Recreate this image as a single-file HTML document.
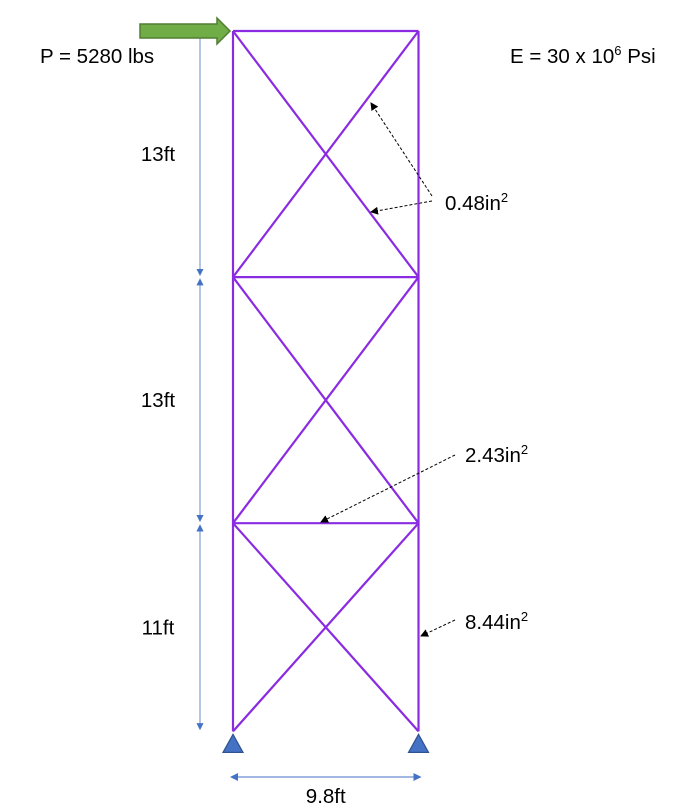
<!DOCTYPE html>
<html><head><meta charset="utf-8"><style>
body{margin:0;background:#fff;}
svg{display:block;font-family:"Liberation Sans",sans-serif;}
</style></head><body>
<svg width="696" height="812" viewBox="0 0 696 812">
<defs>
<marker id="ah" markerWidth="8" markerHeight="8" refX="7" refY="4" orient="auto"><path d="M0,0 L8,4 L0,8 Z" fill="#000"/></marker>
<marker id="bh" markerWidth="8" markerHeight="8" refX="7" refY="4" orient="auto-start-reverse"><path d="M0,0 L8,4 L0,8 Z" fill="#4472c4"/></marker>
</defs>
<g id="frame"></g>
<g id="dims"></g>
<path d="M140,24 L217,24 L217,18 L230,31 L217,44 L217,38 L140,38 Z" fill="#70ad47" stroke="#507e32" stroke-width="1.5"/>
<text x="40" y="63" font-size="20.5">P = 5280 lbs</text>
<text x="510" y="63" font-size="20.5">E = 30 x 10<tspan font-size="13" dy="-8">6</tspan><tspan dy="8"> Psi</tspan></text>
<g stroke="#000" stroke-width="1" stroke-dasharray="3,2" fill="none">
<line x1="432" y1="196" x2="371" y2="103" marker-end="url(#ah)"/>
<line x1="432" y1="201" x2="371" y2="212" marker-end="url(#ah)"/>
<line x1="455" y1="455" x2="321" y2="522" marker-end="url(#ah)"/>
<line x1="455" y1="620" x2="421" y2="636" marker-end="url(#ah)"/>
</g>
<text x="445" y="210" font-size="20.5">0.48in<tspan font-size="13" dy="-8">2</tspan></text>
<text x="465" y="462" font-size="20.5">2.43in<tspan font-size="13" dy="-8">2</tspan></text>
<text x="465" y="629" font-size="20.5">8.44in<tspan font-size="13" dy="-8">2</tspan></text>
</svg>
<script>
const storyHeightsFt=[13,13,11];
const storyLabels=["13ft","13ft","11ft"];
const bayWidthFt=9.8;
const widthLabel="9.8ft";
const NS="http://www.w3.org/2000/svg";
const S=18.93, x0=233, yTop=31;
const total=storyHeightsFt.reduce((a,b)=>a+b,0);
const yBot=yTop+total*S, x1=x0+bayWidthFt*S;
function mk(tag,attrs,parent){const e=document.createElementNS(NS,tag);for(const k in attrs)e.setAttribute(k,attrs[k]);parent.appendChild(e);return e;}
const frame=document.getElementById('frame'), dims=document.getElementById('dims');
const lv=[yTop];storyHeightsFt.forEach(h=>lv.push(lv[lv.length-1]+h*S));
const st={stroke:"#8a2be2","stroke-width":2.2,fill:"none"};
let l=mk('line',Object.assign({x1:x0,y1:yTop,x2:x0,y2:yBot},st),frame);


l=mk('line',Object.assign({x1:x1,y1:yTop,x2:x1,y2:yBot},st),frame);


for(let i=0;i<storyHeightsFt.length;i++){
  const a=lv[i],b=lv[i+1];
  l=mk('line',Object.assign({x1:x0,y1:a,x2:x1,y2:a},st),frame);
  
  
  l=mk('line',Object.assign({x1:x0,y1:a,x2:x1,y2:b},st),frame);
  
  
  l=mk('line',Object.assign({x1:x1,y1:a,x2:x0,y2:b},st),frame);
  
  
  const d=mk('line',{x1:200,y1:a+(i?2:0),x2:200,y2:b-2,stroke:"#5a7fc0","stroke-width":0.9,"marker-end":"url(#bh)"},dims);
  if(i>0)d.setAttribute('marker-start','url(#bh)');
  
  
  const t=mk('text',{x:158,y:(a+b)/2+7,"font-size":20.5,"text-anchor":"middle"},dims);
  t.textContent=storyLabels[i];
  
  
}
[x0,x1].forEach(x=>{const p=mk('path',{d:`M${x-10},${yBot+21} L${x},${yBot+3} L${x+10},${yBot+21} Z`,fill:"#4472c4",stroke:"#2f528f","stroke-width":1.2},frame);

});
const w=mk('line',{x1:x0-2,y1:777,x2:x1+2,y2:777,stroke:"#4472c4","stroke-width":1,"marker-end":"url(#bh)","marker-start":"url(#bh)"},dims);


const wt=mk('text',{x:(x0+x1)/2,y:803,"font-size":20.5,"text-anchor":"middle"},dims);
wt.textContent=widthLabel;


</script>
</body></html>
